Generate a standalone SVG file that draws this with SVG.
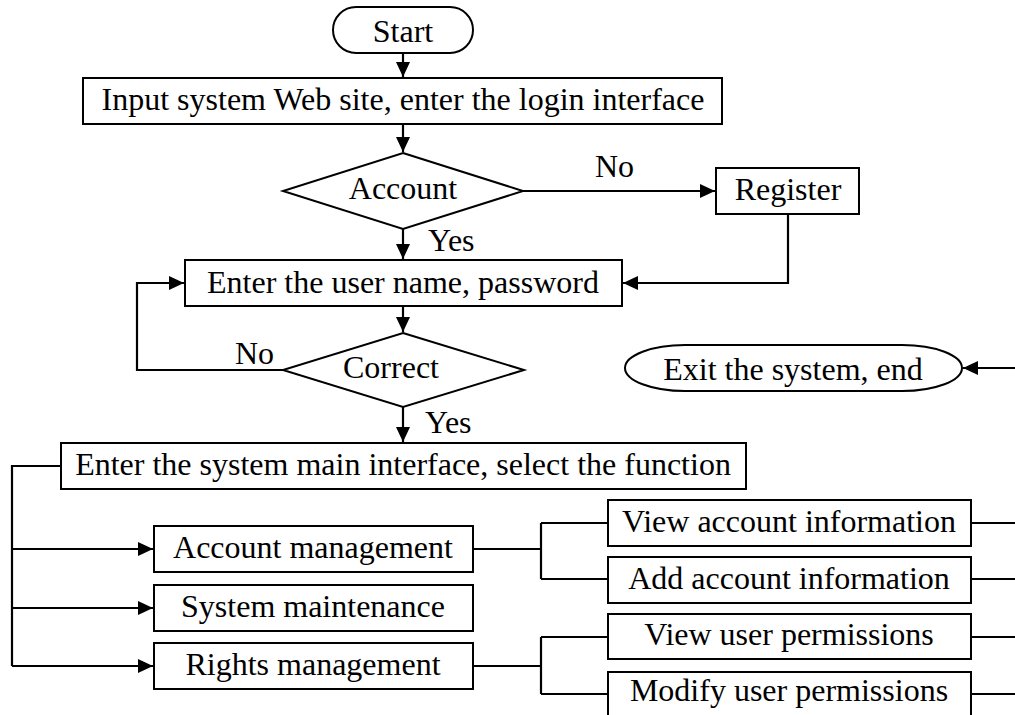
<svg xmlns="http://www.w3.org/2000/svg" width="1015" height="715" viewBox="0 0 1015 715">
<style>
.box{fill:#fff;stroke:#000;stroke-width:2}
.t{font-family:"Liberation Serif","Times New Roman",serif;font-size:32px;fill:#000;text-anchor:middle}
.l{font-family:"Liberation Serif","Times New Roman",serif;font-size:32px;fill:#000}
.c{fill:none;stroke:#000;stroke-width:2.2}
</style>
<defs>
<marker id="ah" markerUnits="userSpaceOnUse" markerWidth="16" markerHeight="14" refX="15" refY="7" orient="auto">
<path d="M0,0 L15,7 L0,14 z" fill="#000"/>
</marker>
</defs>
<rect width="1015" height="715" fill="#fff"/>
<g id="connectors">
<path class="c" d="M403,53 V77" marker-end="url(#ah)"/>
<path class="c" d="M403,124 V152" marker-end="url(#ah)"/>
<path class="c" d="M523,191 H715" marker-end="url(#ah)"/>
<path class="c" d="M403,229 V259" marker-end="url(#ah)"/>
<path class="c" d="M788,214 V283 H623" marker-end="url(#ah)"/>
<path class="c" d="M403,306 V332" marker-end="url(#ah)"/>
<path class="c" d="M283,370 H137 V283 H184" marker-end="url(#ah)"/>
<path class="c" d="M403,407 V442" marker-end="url(#ah)"/>
<path class="c" d="M61,466 H12 V666"/>
<path class="c" d="M12,549 H153" marker-end="url(#ah)"/>
<path class="c" d="M12,608 H153" marker-end="url(#ah)"/>
<path class="c" d="M12,666 H153" marker-end="url(#ah)"/>
<path class="c" d="M473,549 H541 M541,523 V579 M541,523 H608 M541,579 H608"/>
<path class="c" d="M473,666 H541 M541,637 V694 M541,637 H608 M541,694 H608"/>
<path class="c" d="M971,523 H1015 M971,579 H1015 M971,637 H1015 M971,694 H1015"/>
<path class="c" d="M1015,368 H963" marker-end="url(#ah)"/>
</g>
<g id="labels">
<text class="l" x="595" y="177">No</text>
<text class="l" x="428" y="251">Yes</text>
<text class="l" x="235" y="364">No</text>
<text class="l" x="425" y="433">Yes</text>
</g>
<g id="start"><rect class="box" x="333" y="7" width="140" height="46" rx="23" ry="23"/><text class="t" x="403" y="42">Start</text></g>
<g id="input"><rect class="box" x="83" y="78" width="639" height="46"/><text class="t" x="403" y="110">Input system Web site, enter the login interface</text></g>
<g id="account"><polygon class="box" points="403,153 523,191 403,229 283,191"/><text class="t" x="403" y="199">Account</text></g>
<g id="register"><rect class="box" x="716" y="168" width="143" height="46"/><text class="t" x="788" y="200">Register</text></g>
<g id="enter"><rect class="box" x="185" y="260" width="437" height="46"/><text class="t" x="403" y="293">Enter the user name, password</text></g>
<g id="correct"><polygon class="box" points="403,333 524,370 403,407 283,370"/><text class="t" x="391" y="378">Correct</text></g>
<g id="exit"><rect class="box" x="625" y="345" width="337" height="46" rx="60" ry="23"/><text class="t" x="793" y="380">Exit the system, end</text></g>
<g id="main"><rect class="box" x="61" y="443" width="685" height="46"/><text class="t" x="403" y="475">Enter the system main interface, select the function</text></g>
<g id="accmgmt"><rect class="box" x="154" y="526" width="319" height="46"/><text class="t" x="313" y="558">Account management</text></g>
<g id="sysmaint"><rect class="box" x="154" y="585" width="319" height="46"/><text class="t" x="313" y="617">System maintenance</text></g>
<g id="rights"><rect class="box" x="154" y="643" width="319" height="46"/><text class="t" x="313" y="675">Rights management</text></g>
<g id="viewacc"><rect class="box" x="608" y="500" width="363" height="46"/><text class="t" x="789" y="532">View account information</text></g>
<g id="addacc"><rect class="box" x="608" y="557" width="363" height="46"/><text class="t" x="789" y="589">Add account information</text></g>
<g id="viewperm"><rect class="box" x="608" y="614" width="363" height="45"/><text class="t" x="789" y="645">View user permissions</text></g>
<g id="modperm"><rect class="box" x="608" y="672" width="363" height="46"/><text class="t" x="789" y="701">Modify user permissions</text></g>
</svg>
